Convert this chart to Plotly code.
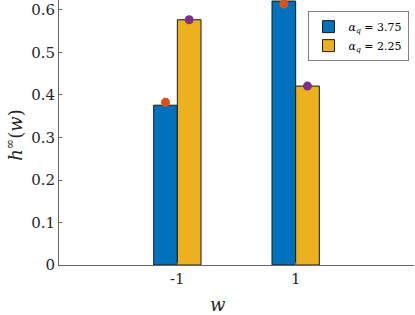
import plotly.graph_objects as go

categories = [-1, 1]
series_names = ["<i>α<sub>q</sub></i> = 3.75", "<i>α<sub>q</sub></i> = 2.25"]
bar_a = [0.376, 0.621]
bar_b = [0.577, 0.421]
dot_a = [0.383, 0.614]
dot_b = [0.577, 0.421]
tick_vals_y = [0, 0.1, 0.2, 0.3, 0.4, 0.5, 0.6]
tick_text_y = ["0", "0.1", "0.2", "0.3", "0.4", "0.5", "0.6"]
tick_text_x = ["-1", "1"]

BW = 0.4
font_fam = "DejaVu Serif"

fig = go.Figure()
fig.add_trace(go.Bar(x=categories, y=bar_a, width=BW, offset=-BW, name=series_names[0],
                     marker=dict(color="#0072BD", line=dict(color="#1a1a1a", width=1))))
fig.add_trace(go.Bar(x=categories, y=bar_b, width=BW, offset=0, name=series_names[1],
                     marker=dict(color="#EDB120", line=dict(color="#1a1a1a", width=1))))
fig.add_trace(go.Scatter(x=[c - BW / 2 for c in categories], y=dot_a, mode="markers",
                         marker=dict(color="#D95319", size=9), showlegend=False))
fig.add_trace(go.Scatter(x=[c + BW / 2 for c in categories], y=dot_b, mode="markers",
                         marker=dict(color="#7E2F8E", size=9), showlegend=False))

fig.update_layout(
    width=415, height=315,
    margin=dict(l=59, r=1, t=0, b=50, autoexpand=False),
    plot_bgcolor="white", paper_bgcolor="white",
    font=dict(family=font_fam, size=15, color="#262626"),
    barmode="overlay",
    legend=dict(x=0.70, y=0.958, xanchor="left", yanchor="top",
                bordercolor="#808080", borderwidth=1, bgcolor="white",
                font=dict(size=11, family=font_fam, color="#000000"), tracegroupgap=0,
                itemwidth=30),
    xaxis=dict(range=[-3, 3], tickvals=categories, ticktext=tick_text_x,
               showgrid=False, zeroline=False, showline=True, linecolor="#666666",
               linewidth=1, ticks="inside", ticklen=3, tickcolor="#666666",
               automargin=False),
    yaxis=dict(range=[0, 0.6235], tickvals=tick_vals_y, ticktext=tick_text_y,
               showgrid=False, zeroline=False, showline=True, linecolor="#666666",
               linewidth=1, ticks="inside", ticklen=3, tickcolor="#666666",
               automargin=False),
    annotations=[
        dict(text="<i>w</i>", xref="paper", yref="paper", x=0.447, y=-0.15,
             xanchor="center", yanchor="middle", showarrow=False, font=dict(size=18)),
        dict(text="<i>h</i><sup>∞</sup>(<i>w</i>)", xref="paper", yref="paper",
             x=-0.125, y=0.49, xanchor="center", yanchor="middle", textangle=-90,
             showarrow=False, font=dict(size=18)),
    ],
)

fig.write_html("out.html", config={"displayModeBar": False},
               post_script="document.body.style.margin='0px';document.body.style.overflow='hidden';")
